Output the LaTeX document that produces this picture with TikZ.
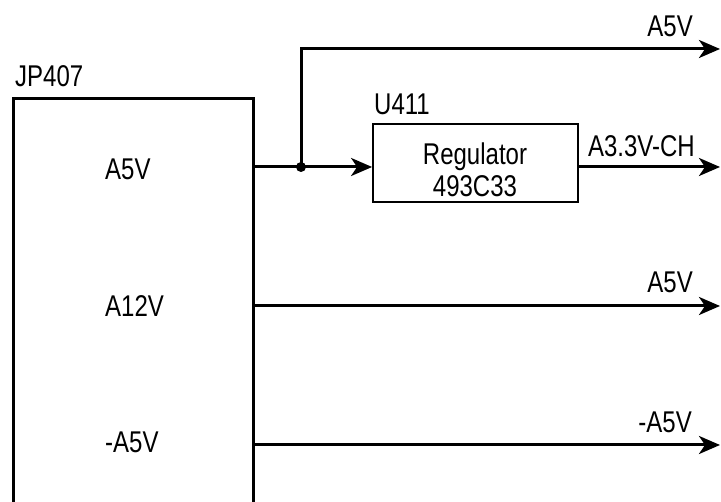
\documentclass[tikz,border=0pt]{standalone}
\usepackage{fontspec}
\setmainfont{Liberation Sans}[FakeStretch=0.8]
\usetikzlibrary{positioning,arrows.meta,calc}
\tikzset{
  lbl/.style={inner sep=0pt,font=\fontsize{30}{32}\selectfont},
  wire/.style={line width=3pt},
  sig/.style={wire,-{Stealth[length=21pt,width=18pt,inset=6pt]}},
  connbox/.style={draw,line width=3pt,minimum width=240pt,minimum height=423pt,inner sep=0pt},
  regbox/.style={draw,line width=1.8pt,minimum width=205pt,minimum height=78pt,inner sep=0pt},
  junc/.style={circle,fill,inner sep=0pt,minimum size=10pt}
}
\begin{document}
\begin{tikzpicture}[x=1pt,y=1pt]
  \clip (0,0) rectangle (721,502);
  % connector
  \node[connbox] (jp) at (133,191.5) {};
  \node[lbl,anchor=base west] (jpname) at (15,415) {JP407};
  \node[lbl,anchor=base west] (pa) at (105,322) {A5V};
  \node[lbl,anchor=base west] (pb) at (105,185) {A12V};
  \node[lbl,anchor=base west] (pc) at (105,49) {-A5V};
  % regulator
  \node[regbox] (reg) at (475.5,339) {};
  \node[lbl,align=center,anchor=south] (regtxt) at (475,305) {Regulator\\493C33};
  \node[lbl,anchor=base west] (u411) at (374,387) {U411};
  % ends
  \coordinate (j) at (301,335);
  \coordinate (out1) at (720,453);
  \coordinate (out2) at (720,335);
  \coordinate (out3) at (720,196);
  \coordinate (out4) at (720,57);
  \node[junc] (jdot) at (j) {};
  \draw[wire] (jp.east |- j) -- (j);
  \draw[sig] (j) -- (j -| reg.west);
  \draw[sig] (j) |- (out1);
  \draw[sig] (j -| reg.east) -- (out2);
  \draw[sig] (jp.east |- out3) -- (out3);
  \draw[sig] (jp.east |- out4) -- (out4);
  \node[lbl,anchor=base east] (o1) at (693,465) {A5V};
  \node[lbl,anchor=base east] (o2) at (695,345) {A3.3V-CH};
  \node[lbl,anchor=base east] (o3) at (693,209) {A5V};
  \node[lbl,anchor=base east] (o4) at (692,69) {-A5V};
\end{tikzpicture}
\end{document}
